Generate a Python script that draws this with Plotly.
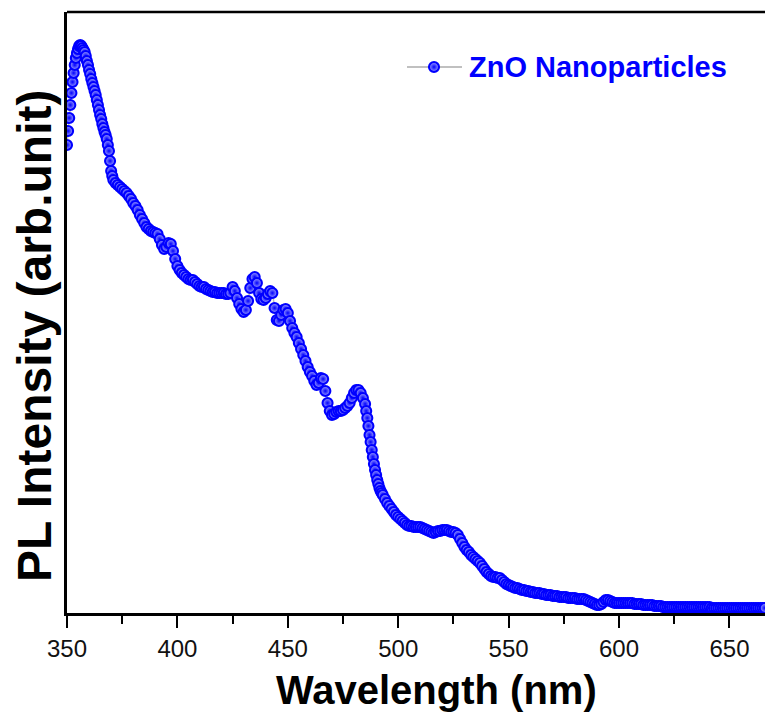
import plotly.graph_objects as go

# Wavelength grid (nm) and PL intensity (arb. units)
wavelength = list(range(350, 667))
intensity = [
    468, 495, 520, 540, 555, 564, 568, 565, 561, 552,   # 350-359
    543, 534, 526, 518, 508, 498, 489, 481, 474, 462,   # 360-369
    442, 433, 430, 428, 426, 424, 422, 420, 417, 414,   # 370-379
    410, 407, 403, 398, 394, 390, 386, 384, 382, 381,   # 380-389
    380, 379, 374, 368, 364, 366, 370, 369, 362, 354,   # 390-399
    347, 343, 340, 338, 336, 334, 333, 333, 331, 329,   # 400-409
    327, 326, 326, 324, 323, 322, 321, 321, 320, 320,   # 410-419
    320, 320, 319, 319, 320, 326, 322, 315, 309, 304,   # 420-429
    301, 303, 312, 325, 334, 336, 330, 320, 314, 313,   # 430-439
    315, 319, 322, 320, 305, 293, 292, 298, 303, 304,   # 440-449
    300, 292, 285, 280, 276, 270, 264, 258, 252, 246,   # 450-459
    241, 237, 232, 228, 230, 235, 234, 222, 210, 202,   # 460-469
    198, 199, 201, 202, 202, 203, 205, 207, 210, 215,   # 470-479
    220, 223, 223, 220, 215, 209, 195, 178, 163, 149,   # 480-489
    138, 129, 122, 118, 114, 110, 107, 104, 101, 98,    # 490-499
    96, 94, 92, 90, 88, 87, 87, 86, 86, 86,             # 500-509
    86, 85, 84, 83, 82, 81, 80, 81, 82, 82,             # 510-519
    83, 83, 83, 82, 81, 81, 80, 78, 74, 70,             # 520-529
    66, 63, 61, 58, 56, 54, 52, 50, 47, 44,             # 530-539
    41, 39, 37, 36, 36, 35, 35, 33, 31, 29,             # 540-549
    28, 27, 26, 25, 25, 24, 23, 23, 22, 22,             # 550-559
    21, 21, 20, 20, 20, 19, 19, 18, 18, 18,             # 560-569
    17, 17, 17, 16, 16, 16, 16, 15, 15, 15,             # 570-579
    15, 14, 14, 14, 14, 13, 12, 11, 10, 9,              # 580-589
    8, 8, 9, 11, 13, 13, 12, 11, 10, 10,                # 590-599
    10, 10, 10, 10, 10, 10, 10, 9, 9, 9,                # 600-609
    9, 8, 8, 8, 8, 8, 7, 7, 7, 7,                       # 610-619
    6, 6, 6, 6, 6, 6, 6, 6, 6, 6,                       # 620-629
    6, 6, 6, 6, 6, 6, 6, 6, 6, 6,                       # 630-639
    6, 6, 5, 5, 5, 5, 5, 5, 5, 5,                       # 640-649
    5, 5, 5, 5, 5, 5, 5, 5, 5, 5,                       # 650-659
    5, 5, 5, 5, 5, 5, 5,                                # 660-666
]
# extra half-nm readings on the steep stretches, where the markers sit densest
extra_wavelength = [350.5, 351.5, 352.5, 353.5, 354.5, 355.5, 356.5, 357.5,
                    358.5, 359.5, 360.5, 361.5, 362.5, 363.5, 364.5, 365.5,
                    366.5, 367.5, 368.5, 369.5, 370.5,
                    485.5, 486.5, 487.5, 488.5, 489.5, 490.5, 491.5, 492.5]
extra_intensity = [482, 508, 531, 548, 560, 567, 567, 563,
                   557, 548, 539, 530, 522, 513, 503, 494,
                   485, 478, 468, 452, 437,
                   202, 187, 171, 156, 143, 133, 125, 120]
series_name = "ZnO Nanoparticles"
x_ticks = [350, 400, 450, 500, 550, 600, 650]

pairs = sorted(zip(wavelength + extra_wavelength, intensity + extra_intensity))
xs = [p[0] for p in pairs]
ys = [p[1] for p in pairs]

FONT = "Liberation Sans, Arial, sans-serif"
NARROW = "Liberation Sans Narrow, Arial Narrow, Liberation Sans, sans-serif"
BLUE = "#0000ff"
MARKER = dict(symbol="circle", size=10, color="#a4a4ff",
              gradient=dict(type="radial", color="#0000ff"),
              line=dict(color=BLUE, width=2.1))

W, H = 765, 714
L, T, B = 67, 12, 101
PW, PH = W - L, H - T - B


def px_x(v):  # reference pixel -> paper x
    return (v - L) / PW


def px_y(v):  # reference pixel -> paper y
    return (H - B - v) / PH


fig = go.Figure()
fig.add_trace(go.Scatter(
    x=xs, y=ys, name=series_name, mode="lines+markers",
    line=dict(color="#bdbdbd", width=1.5), marker=MARKER, showlegend=False,
))
# legend sample (line + sphere) drawn on an overlay axis in paper units
fig.add_trace(go.Scatter(
    x=[px_x(407), px_x(462)], y=[px_y(67), px_y(67)], mode="lines",
    line=dict(color="#c0c0c0", width=2), xaxis="x2", yaxis="y2",
    showlegend=False, hoverinfo="skip",
))
fig.add_trace(go.Scatter(
    x=[px_x(434)], y=[px_y(67)], mode="markers", marker=MARKER,
    xaxis="x2", yaxis="y2", showlegend=False, hoverinfo="skip",
))

fig.update_layout(
    width=W, height=H,
    margin=dict(l=L, r=0, t=T, b=B),
    paper_bgcolor="white", plot_bgcolor="white",
    showlegend=False,
    xaxis=dict(range=[350, 666.1], tickvals=x_ticks, ticks="outside",
               ticklen=12, tickwidth=2, tickcolor="black",
               showline=True, linecolor="black", linewidth=2.5,
               showgrid=False, zeroline=False,
               tickfont=dict(family=NARROW, size=24, color="#111111"),
               minor=dict(dtick=25, tick0=350, ticks="outside", ticklen=8,
                          tickwidth=2, tickcolor="black", showgrid=False)),
    yaxis=dict(range=[0, 601], showticklabels=False, ticks="",
               showline=True, linecolor="black", linewidth=2.5,
               showgrid=False, zeroline=False),
    xaxis2=dict(range=[0, 1], overlaying="x", visible=False),
    yaxis2=dict(range=[0, 1], overlaying="y", visible=False),
    shapes=[dict(type="line", xref="paper", yref="paper", x0=0, x1=1, y0=1, y1=1,
                 line=dict(color="black", width=2.5))],
    annotations=[
        dict(text="<b>ZnO Nanoparticles</b>", xref="paper", yref="paper",
             x=px_x(467), y=px_y(67), xanchor="left", yanchor="middle",
             showarrow=False, font=dict(family=FONT, size=29, color=BLUE)),
        dict(text="<b>Wavelength (nm)</b>", xref="paper", yref="paper",
             x=px_x(436), y=px_y(690), xanchor="center", yanchor="middle",
             showarrow=False, font=dict(family=FONT, size=40, color="black")),
        dict(text="<b>PL Intensity (arb.unit)</b>", xref="paper", yref="paper",
             x=px_x(34), y=px_y(336), xanchor="center", yanchor="middle",
             textangle=-90, showarrow=False,
             font=dict(family=FONT, size=48, color="black")),
    ],
)

fig.write_html(
    "out.html",
    config={"displayModeBar": False},
    post_script="document.body.style.margin='0';document.body.style.overflow='hidden';",
)
